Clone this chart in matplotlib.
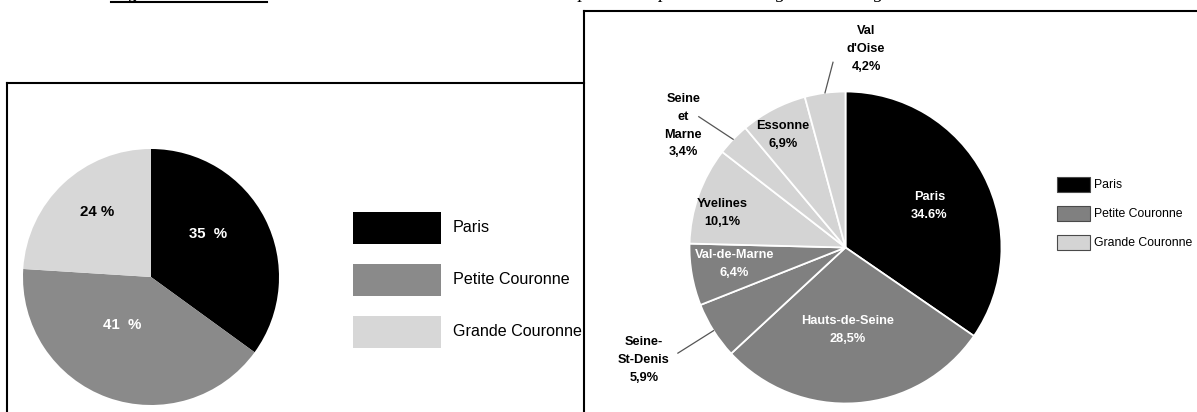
import numpy as np
import matplotlib
matplotlib.use("Agg")
import matplotlib.pyplot as plt
from matplotlib.patches import Rectangle
from matplotlib.lines import Line2D

W, H = 1197, 412

# --- data ---
zones = ["Paris", "Petite Couronne", "Grande Couronne"]
zone_share = [35, 41, 24]
zone_labels = ["35  %", "41  %", "24 %"]

depts = ["Paris", "Hauts-de-Seine", "Seine-\nSt-Denis", "Val-de-Marne",
         "Yvelines", "Seine\net\nMarne", "Essonne", "Val\nd'Oise"]
dept_share = [34.6, 28.5, 5.9, 6.4, 10.1, 3.4, 6.9, 4.2]
dept_pct = ["34.6%", "28,5%", "5,9%", "6,4%", "10,1%", "3,4%", "6,9%", "4,2%"]
dept_zone = [0, 1, 1, 1, 2, 2, 2, 2]

left_cols = ["#000000", "#8a8a8a", "#d7d7d7"]
right_cols = ["#000000", "#808080", "#d4d4d4"]

sans = ["Liberation Sans", "DejaVu Sans"]
serif = ["Liberation Serif", "DejaVu Serif"]

fig = plt.figure(figsize=(W / 100, H / 100), dpi=100)


def px_axes(cx, cy, r):
    # square axes around a centre given in pixels from the top-left
    return fig.add_axes([(cx - r) / W, (H - cy - r) / H, 2 * r / W, 2 * r / H])


def polar(dist, ang):
    a = np.deg2rad(ang)
    return dist * np.cos(a), dist * np.sin(a)


def legend_px(cols, x, top, bw, bh, pitch, gap, size, edge):
    # hand-drawn legend, boxes and labels placed in pixels
    for i, (name, c) in enumerate(zip(zones, cols)):
        y = top + i * pitch
        fig.add_artist(Rectangle((x / W, 1 - (y + bh) / H), bw / W, bh / H,
                                 transform=fig.transFigure, facecolor=c,
                                 edgecolor=edge, linewidth=0.8))
        fig.text((x + bw + gap) / W, 1 - (y + bh / 2) / H, name, family=sans,
                 fontsize=size, va="center", ha="left")


# ---------------- left pie ----------------
ax1 = px_axes(151, 277, 128)
w1, _ = ax1.pie(zone_share, colors=left_cols, startangle=90, counterclock=False,
                radius=1, wedgeprops=dict(linewidth=0))
ax1.set_xlim(-1, 1)
ax1.set_ylim(-1, 1)
ax1.set_aspect("equal")
ax1.axis("off")

# label placement: (angle shift from wedge middle, distance)
left_pos = [(10, 0.56), (-11, 0.44), (-4, 0.66)]
left_txt = ["white", "white", "black"]
for w, lab, (da, d), c in zip(w1, zone_labels, left_pos, left_txt):
    mid = (w.theta1 + w.theta2) / 2
    x, y = polar(d, mid + da)
    ax1.text(x, y, lab, ha="center", va="center", color=c, fontsize=10.8,
             fontweight="bold", family=sans)

legend_px(left_cols, 353, 212, 88, 32, 52, 12, 11.6, "none")

# ---------------- right pie ----------------
ax2 = px_axes(845.5, 247.5, 156)
w2, _ = ax2.pie(dept_share, colors=[right_cols[z] for z in dept_zone],
                startangle=90, counterclock=False, radius=1,
                wedgeprops=dict(linewidth=1.3, edgecolor="white"))
ax2.set_xlim(-1, 1)
ax2.set_ylim(-1, 1)
ax2.set_aspect("equal")
ax2.axis("off")

# (angle shift, distance, leader end (angle shift, distance) or None)
right_pos = [(-1.5, 0.60, None), (-2.4, 0.53, None), (-3.0, 1.48, (0, 1.27)),
             (-1.6, 0.72, None), (3.9, 0.82, None), (7.0, 1.30, (2.2, 1.26)),
             (1.5, 0.825, None), (-13.5, 1.28, (-3.7, 1.19))]
for w, name, pct, z, (da, d, lead) in zip(w2, depts, dept_pct, dept_zone, right_pos):
    mid = (w.theta1 + w.theta2) / 2
    x, y = polar(d, mid + da)
    col = "white" if z < 2 and d < 1 else "black"
    ax2.text(x, y, name + "\n" + pct, ha="center", va="center", color=col,
             fontsize=9.2, fontweight="bold", family=sans, linespacing=1.65,
             multialignment="center")
    if lead is not None:
        x0, y0 = polar(1.0, mid)
        x1, y1 = polar(lead[1], mid + lead[0])
        ax2.plot([x0, x1], [y0, y1], color="#555555", lw=0.9, clip_on=False)

legend_px(right_cols, 1057, 177, 33, 15, 29, 4, 8.8, "#4a4a4a")

# ---------------- frames ----------------
lw = 1.5
fig.add_artist(Line2D([7 / W, 7 / W], [0, 1 - 83 / H], color="black", lw=lw))
fig.add_artist(Line2D([7 / W, 584 / W], [1 - 83 / H, 1 - 83 / H], color="black", lw=lw))
fig.add_artist(Line2D([584 / W, 584 / W], [0, 1 - 11 / H], color="black", lw=lw))
fig.add_artist(Line2D([584 / W, 1], [1 - 11 / H, 1 - 11 / H], color="black", lw=lw))

# caption cut off at the top of the page, as in the scan
fig.text(111 / W, 1 + 1.5 / H, "Figure 2 :", family=serif, fontsize=14,
         fontweight="bold", style="italic", va="baseline")
fig.add_artist(Line2D([111 / W, 267 / W], [1 - 2 / H, 1 - 2 / H], color="black", lw=1.5))
fig.text(558 / W, 1 + 1.5 / H, "Répartition spatiale des usagers de la région",
         family=serif, fontsize=14, style="italic", va="baseline")

fig.savefig("out.png", dpi=100)
